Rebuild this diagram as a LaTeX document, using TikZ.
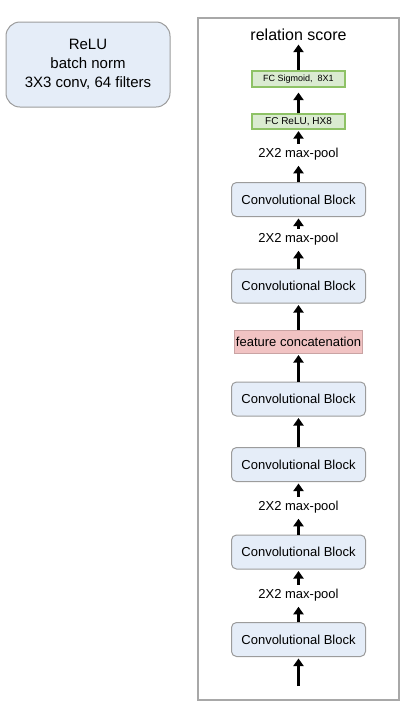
\documentclass[tikz,border=0pt]{standalone}
\usepackage{fontspec}
\setmainfont{Liberation Sans}
\usetikzlibrary{arrows.meta}
\definecolor{blockfill}{HTML}{E5EDF8}
\definecolor{blockline}{HTML}{9C9C9C}
\definecolor{fcfill}{HTML}{DAEBD1}
\definecolor{fcline}{HTML}{8EC266}
\definecolor{catfill}{HTML}{F1C3C3}
\definecolor{catline}{HTML}{C9A3A3}
\definecolor{framegray}{HTML}{A8A8A8}
\begin{document}
\begin{tikzpicture}[x=1pt,y=-1pt,
    convblock/.style={draw=blockline, fill=blockfill, line width=1pt, rounded corners=5pt,
      minimum width=134pt, minimum height=34pt, inner sep=0pt, font=\fontsize{13}{15}\selectfont},
    fclayer/.style={draw=fcline, fill=fcfill, line width=1.2pt, minimum width=93pt,
      minimum height=16pt, inner sep=0pt, font=\fontsize{9.5}{11}\selectfont},
    catlayer/.style={draw=catline, fill=catfill, line width=1pt, minimum width=128pt,
      minimum height=23pt, inner sep=0pt, font=\fontsize{13}{15}\selectfont},
    pooltext/.style={inner xsep=0pt, inner ysep=4pt, font=\fontsize{13}{15}\selectfont},
    flow/.style={-{Triangle[width=10pt,length=7.5pt]}, line width=3.5pt, shorten >=1.5pt}]
  \useasboundingbox (0,0) rectangle (400,705);
  % legend block
  \node[draw=blockline, fill=blockfill, line width=1pt, rounded corners=14pt,
    minimum width=164pt, minimum height=85pt, align=center,
    font=\fontsize{15}{19}\selectfont] (legend) at (88,64.5)
    {ReLU\\batch norm\\3X3 conv, 64 filters};
  % relation module
  \draw[framegray, line width=1.2pt] (198,18) rectangle (399,700);
  \node[pooltext, inner ysep=2pt, font=\fontsize{16}{18}\selectfont] (score) at (298.5,35) {relation score};
  \node[fclayer, font=\fontsize{9}{11}\selectfont] (fcsig) at (298.5,79) {FC Sigmoid,\ \ 8X1};
  \node[fclayer, minimum height=15pt, font=\fontsize{10}{12}\selectfont] (fcrelu) at (298.5,121.5) {FC ReLU, HX8};
  \node[pooltext] (poola) at (298.5,154) {2X2 max-pool};
  \node[convblock] (conva) at (298.5,199.5) {Convolutional Block};
  \node[pooltext] (poolb) at (298.5,239) {2X2 max-pool};
  \node[convblock] (convb) at (298.5,286) {Convolutional Block};
  \node[catlayer] (concat) at (298.5,341.5) {feature concatenation};
  \node[convblock] (convc) at (298.5,399) {Convolutional Block};
  \node[convblock] (convd) at (298.5,464.5) {Convolutional Block};
  \node[pooltext] (poolc) at (298.5,507) {2X2 max-pool};
  \node[convblock] (conve) at (298.5,552) {Convolutional Block};
  \node[pooltext] (poold) at (298.5,595) {2X2 max-pool};
  \node[convblock] (convf) at (298.5,639.5) {Convolutional Block};
  \coordinate (input) at (298.5,686);
  \draw[flow] (fcsig) -- (score);
  \draw[flow, shorten >=5pt] (fcrelu) -- (fcsig);
  \draw[flow] (poola) -- (fcrelu);
  \draw[flow] (conva) -- (poola);
  \draw[flow] (poolb) -- (conva);
  \draw[flow] (convb) -- (poolb);
  \draw[flow] (concat) -- (convb);
  \draw[flow] (convc) -- (concat);
  \draw[flow] (convd) -- (convc);
  \draw[flow] (poolc) -- (convd);
  \draw[flow] (conve) -- (poolc);
  \draw[flow] (poold) -- (conve);
  \draw[flow] (convf) -- (poold);
  \draw[flow] (input) -- (convf);
\end{tikzpicture}
\end{document}
